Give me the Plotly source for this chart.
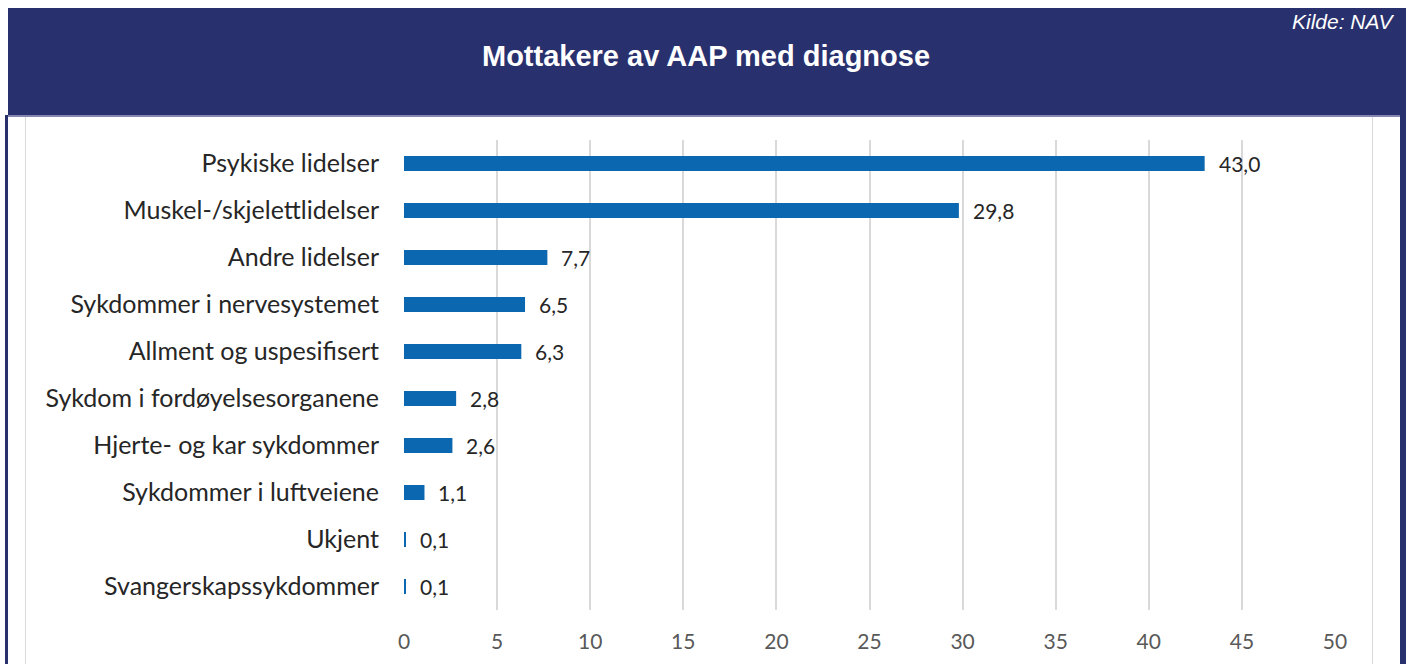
import plotly.graph_objects as go

# Mottakere av AAP fordelt på diagnosegruppe (prosent)
categories = [
    "Psykiske lidelser",
    "Muskel-/skjelettlidelser",
    "Andre lidelser",
    "Sykdommer i nervesystemet",
    "Allment og uspesifisert",
    "Sykdom i fordøyelsesorganene",
    "Hjerte- og kar sykdommer",
    "Sykdommer i luftveiene",
    "Ukjent",
    "Svangerskapssykdommer",
]
values = [43.0, 29.8, 7.7, 6.5, 6.3, 2.8, 2.6, 1.1, 0.1, 0.1]
x_ticks = [0, 5, 10, 15, 20, 25, 30, 35, 40, 45, 50]

NAVY = "#29306E"
BAR = "#0B67B0"
W, H = 1406, 664
ML, MR, MT, MB = 404, 71, 140, 54
FONT = "Lato, Carlito, sans-serif"

fig = go.Figure(
    go.Bar(
        y=categories,
        x=values,
        orientation="h",
        marker=dict(color=BAR, line=dict(width=0)),
        width=0.32,
        hoverinfo="skip",
    )
)

# value labels just past the end of each bar
for cat, val in zip(categories, values):
    fig.add_annotation(
        x=val, y=cat, xref="x", yref="y",
        text=f"{val:.1f}".replace(".", ","),
        xanchor="left", yanchor="middle", xshift=12,
        showarrow=False,
        font=dict(family=FONT, size=21, color="#262626"),
    )

fig.update_layout(
    width=W,
    height=H,
    paper_bgcolor="white",
    plot_bgcolor="white",
    showlegend=False,
    margin=dict(l=ML, r=MR, t=MT, b=MB, pad=0),
    font=dict(family=FONT),
    xaxis=dict(
        range=[0, 50],
        tickvals=x_ticks,
        ticktext=[str(t) for t in x_ticks],
        showgrid=True,
        gridcolor="#D9D9D9",
        gridwidth=1.5,
        zeroline=False,
        showline=False,
        ticks="",
        ticklabelstandoff=17,
        tickfont=dict(size=21, color="#595959"),
        fixedrange=True,
    ),
    yaxis=dict(
        autorange="reversed",
        showgrid=False,
        showline=False,
        ticks="",
        ticklabelstandoff=24,
        tickfont=dict(size=25, color="#262626"),
        fixedrange=True,
    ),
)

# frame drawn in pixel positions converted to paper units
pw = W - ML - MR
ph = H - MT - MB


def px_x(px):
    return (px - ML) / pw


def px_y(py):
    return (H - MB - py) / ph


frame = [
    # navy header band
    dict(type="rect", x0=px_x(8), x1=px_x(1406), y0=px_y(115), y1=px_y(8),
         fillcolor=NAVY, line=dict(width=0)),
    # thin lighter rule under the header
    dict(type="line", x0=px_x(8), x1=px_x(1401), y0=px_y(116), y1=px_y(116),
         line=dict(color="#5A5F96", width=1.5)),
    # navy side borders
    dict(type="rect", x0=px_x(5), x1=px_x(8), y0=px_y(H), y1=px_y(115),
         fillcolor=NAVY, line=dict(width=0)),
    dict(type="rect", x0=px_x(1400), x1=px_x(1406), y0=px_y(H), y1=px_y(115),
         fillcolor=NAVY, line=dict(width=0)),
    # inner chart-area border
    dict(type="line", x0=px_x(25.5), x1=px_x(25.5), y0=px_y(H), y1=px_y(117),
         line=dict(color="#D9D9D9", width=1)),
    dict(type="line", x0=px_x(1372.5), x1=px_x(1372.5), y0=px_y(H), y1=px_y(117),
         line=dict(color="#D9D9D9", width=1)),
]
for s in frame:
    s.update(xref="paper", yref="paper", layer="below")
fig.update_layout(shapes=frame)

fig.add_annotation(
    text="<b>Mottakere av AAP med diagnose</b>",
    xref="paper", yref="paper", x=px_x(706), y=px_y(56),
    xanchor="center", yanchor="middle", showarrow=False,
    font=dict(family="Liberation Sans, Arial, sans-serif", size=29, color="white"),
)
fig.add_annotation(
    text="<i>Kilde: NAV</i>",
    xref="paper", yref="paper", x=px_x(1396), y=px_y(22),
    xanchor="right", yanchor="middle", showarrow=False,
    font=dict(family="Liberation Sans, Arial, sans-serif", size=21, color="white"),
)

fig.write_html("out.html")
